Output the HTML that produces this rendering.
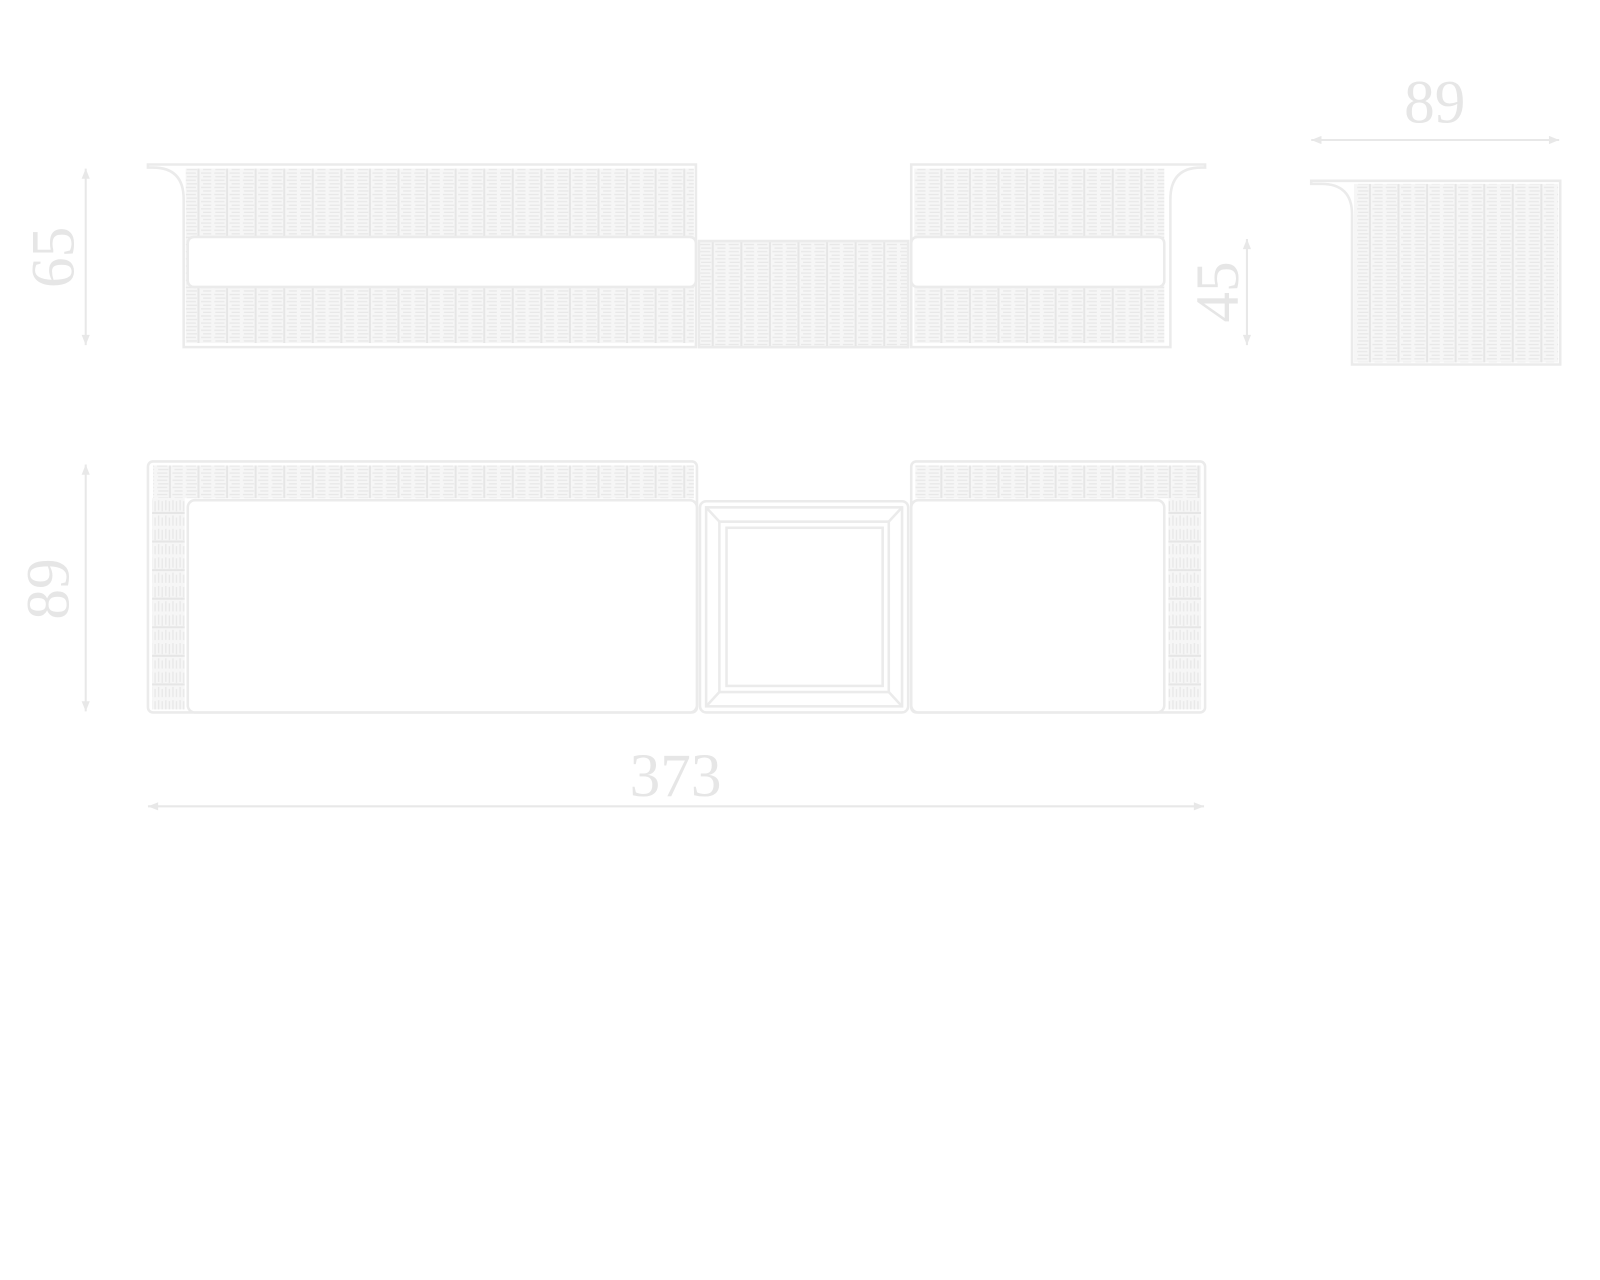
<!DOCTYPE html>
<html><head><meta charset="utf-8"><style>html,body{margin:0;padding:0;background:#fff}svg{display:block}</style></head><body>
<svg width="1600" height="1280" viewBox="0 0 1568 1254" xmlns="http://www.w3.org/2000/svg">
<defs>
<pattern id="w" width="28" height="7" patternUnits="userSpaceOnUse">
<rect width="28" height="7" fill="#f6f6f6"/>
<path d="M1 1.5h10M14 1.5h10M3 5h8M15 5h10" stroke="#e8e8e8" stroke-width="1.3"/>
<path d="M26.5 0v7" stroke="#e6e6e6" stroke-width="2"/>
</pattern>
<pattern id="wv" width="7" height="28" patternUnits="userSpaceOnUse">
<rect width="7" height="28" fill="#f6f6f6"/>
<path d="M1.5 1v10M1.5 14v10M5 3v8M5 15v10" stroke="#e8e8e8" stroke-width="1.3"/>
<path d="M0 26.5h7" stroke="#e6e6e6" stroke-width="2"/>
</pattern>
<marker id="a" viewBox="0 0 10 10" refX="10" refY="5" markerWidth="28" markerHeight="10" markerUnits="userSpaceOnUse" orient="auto-start-reverse"><path d="M0 1L10 5L0 9z" fill="#e8e8e8"/></marker>
</defs>
<g fill="none" stroke="#ebebeb" stroke-width="2.5">
<rect x="182" y="165" width="498" height="171" fill="url(#w)" stroke="none"/>
<path d="M682 340H180V195Q180 164 150 164H145V161H682Z"/>
<rect x="184" y="232" width="498" height="49" rx="6" fill="#fff"/>
<rect x="685" y="236" width="205" height="104" fill="url(#w)"/>
<rect x="896" y="165" width="245" height="171" fill="url(#w)" stroke="none"/>
<path d="M893 340H1147V195Q1147 164 1177 164H1181V161H893Z"/>
<rect x="893" y="232" width="248" height="49" rx="6" fill="#fff"/>
<rect x="1327" y="180" width="200" height="175" fill="url(#w)" stroke="none"/>
<path d="M1529 357H1325V210Q1325 180 1295 180H1285V177H1529Z"/>
<rect x="145" y="452" width="538" height="246" rx="5"/>
<rect x="150" y="456" width="530" height="32" fill="url(#w)" stroke="none"/>
<rect x="149" y="488" width="32" height="207" fill="url(#wv)" stroke="none"/>
<rect x="184" y="490" width="499" height="208" rx="7" fill="#fff"/>
<rect x="686" y="491" width="204" height="207" rx="6"/>
<rect x="692" y="497" width="192" height="195"/>
<rect x="705" y="511" width="166" height="167"/>
<rect x="712" y="517" width="153" height="155"/>
<path d="M692 497L705 511M884 497L871 511M692 692L705 678M884 692L871 678"/>
<rect x="893" y="452" width="288" height="246" rx="5"/>
<rect x="897" y="456" width="280" height="32" fill="url(#w)" stroke="none"/>
<rect x="1145" y="488" width="32" height="207" fill="url(#wv)" stroke="none"/>
<rect x="893" y="490" width="248" height="208" rx="7" fill="#fff"/>
<g stroke="#e8e8e8" stroke-width="2">
<line x1="84" y1="165" x2="84" y2="338" marker-start="url(#a)" marker-end="url(#a)"/>
<line x1="1222" y1="234" x2="1222" y2="338" marker-start="url(#a)" marker-end="url(#a)"/>
<line x1="1285" y1="137" x2="1528" y2="137" marker-start="url(#a)" marker-end="url(#a)"/>
<line x1="84" y1="455" x2="84" y2="697" marker-start="url(#a)" marker-end="url(#a)"/>
<line x1="145" y1="790" x2="1180" y2="790" marker-start="url(#a)" marker-end="url(#a)"/>
</g>
</g>
<g fill="#e6e6e6" font-family="Liberation Serif, serif" font-size="60" text-anchor="middle">
<text x="662" y="780">373</text>
<text x="1406" y="120">89</text>
<text transform="translate(72,252) rotate(-90)">65</text>
<text transform="translate(67,577) rotate(-90)">89</text>
<text transform="translate(1213,286) rotate(-90)">45</text>
</g>
</svg>
</body></html>
